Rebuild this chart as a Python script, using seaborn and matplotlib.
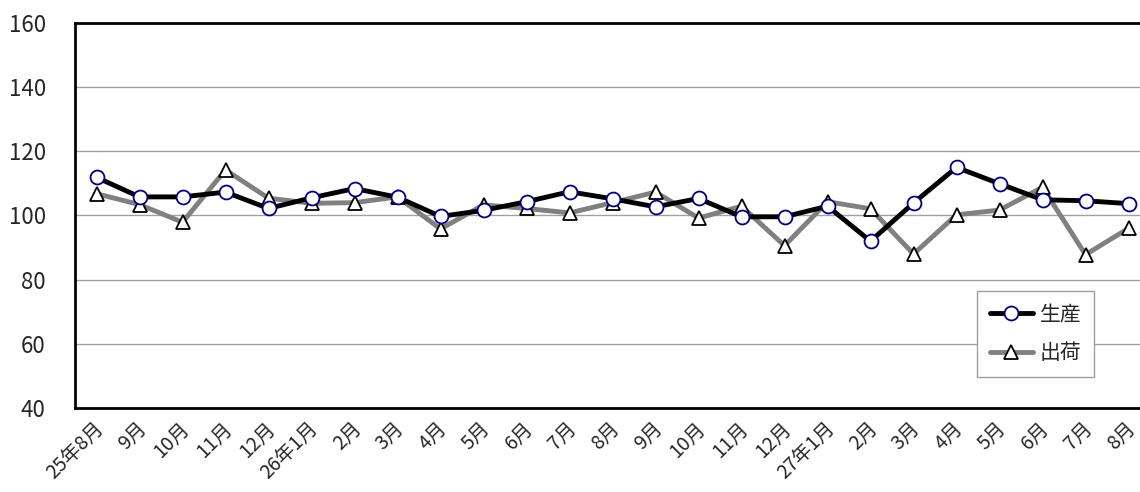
import numpy as np
import pandas as pd
import seaborn as sns
import matplotlib.pyplot as plt
import matplotlib.transforms as mtransforms

months = ['25年8月', '9月', '10月', '11月', '12月', '26年1月', '2月', '3月', '4月', '5月',
          '6月', '7月', '8月', '9月', '10月', '11月', '12月', '27年1月', '2月', '3月',
          '4月', '5月', '6月', '7月', '8月']
production = [111.9, 105.8, 105.8, 107.3, 102.2, 105.5, 108.4, 105.7, 99.7, 101.6,
              104.3, 107.4, 105.2, 102.7, 105.3, 99.6, 99.6, 102.9, 92.0, 103.9,
              115.0, 109.9, 104.9, 104.6, 103.7]
shipment = [106.8, 103.4, 97.9, 114.2, 105.4, 103.8, 104.0, 105.8, 95.8, 103.3,
            102.2, 100.8, 104.0, 107.3, 99.2, 102.9, 90.6, 104.3, 102.1, 88.0,
            100.2, 101.7, 108.8, 87.8, 96.0]

df = pd.DataFrame({'pos': np.arange(len(months)), 'month': months,
                   '生産': production, '出荷': shipment})

sns.set_style('white')
plt.rcParams['font.family'] = ['Noto Sans CJK JP', 'DejaVu Sans']

fig = plt.figure(figsize=(11.4, 4.92), dpi=100)
# axes runs slightly past the right edge, as in the original
ax = fig.add_axes([75 / 1140, 84 / 492, 1075 / 1140, 385 / 492])

sns.lineplot(data=df, x='pos', y='出荷', ax=ax, color='#808080', linewidth=3.5,
             marker='^', markersize=10, markerfacecolor='white',
             markeredgecolor='black', markeredgewidth=1.3, label='出荷', zorder=3)
sns.lineplot(data=df, x='pos', y='生産', ax=ax, color='black', linewidth=3.5,
             marker='o', markersize=10, markerfacecolor='white',
             markeredgecolor='#000080', markeredgewidth=1.3, label='生産', zorder=4)

ax.set_xlim(-0.5, len(months) - 0.5)
ax.set_ylim(40, 160)
ax.set_yticks(range(40, 161, 20))
ax.yaxis.grid(True, color='#a0a0a0', linewidth=1)
ax.set_axisbelow(True)

ax.set_xticks(np.arange(len(months)))
ax.set_xticklabels(months, rotation=45, ha='right', rotation_mode='anchor', fontsize=14)
ax.set_xticks(np.arange(0.5, len(months) - 1, 1), minor=True)
ax.tick_params(axis='x', which='major', length=0, pad=7)
ax.tick_params(axis='x', which='minor', direction='in', length=5, color='#a0a0a0')
ax.tick_params(axis='y', length=0, labelsize=16, pad=21)
shift = mtransforms.ScaledTranslation(-4 / 100, 0, fig.dpi_scale_trans)
for lbl in ax.get_xticklabels():
    lbl.set_transform(lbl.get_transform() + shift)
ax.set_xlabel('')
ax.set_ylabel('')

for side in ['left', 'top', 'bottom']:
    ax.spines[side].set_color('black')
    ax.spines[side].set_linewidth(2)
ax.spines['right'].set_visible(False)

handles, labels = ax.get_legend_handles_labels()
leg = ax.legend(handles[::-1], labels[::-1], loc='upper left',
                bbox_to_anchor=(977 / 1140, 1 - 291 / 492), bbox_transform=fig.transFigure,
                borderaxespad=0, fontsize=15, frameon=True, fancybox=False,
                edgecolor='#a0a0a0', framealpha=1, handlelength=2.1, handletextpad=0.3,
                labelspacing=0.8, borderpad=0.6)
leg.get_frame().set_linewidth(1)

fig.savefig('out.png', dpi=100)
